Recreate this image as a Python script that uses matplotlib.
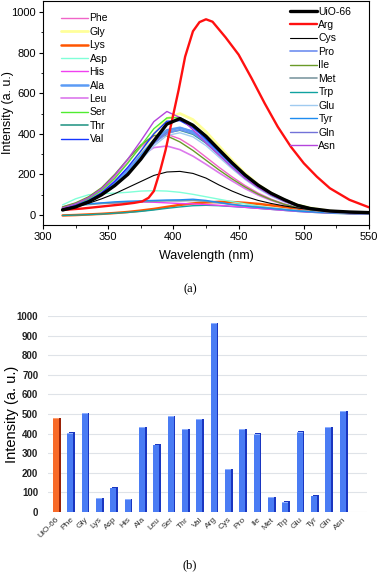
import numpy as np
import matplotlib
matplotlib.use("Agg")
import matplotlib.pyplot as plt
from matplotlib.ticker import MultipleLocator

plt.rcParams['font.family'] = ['Liberation Sans', 'DejaVu Sans']

# ---------------- data: spectra (panel a) ----------------
wavelength = [315, 325, 335, 345, 355, 365, 375, 385, 395, 405, 415, 425,
              435, 445, 455, 465, 475, 485, 495, 505, 520, 535, 550]

phe = [40, 58, 85, 125, 185, 260, 335, 390, 398, 375, 335, 285, 235, 188, 145, 108, 78, 55, 38, 26, 15, 10, 7]
gly = [30, 45, 68, 105, 158, 225, 310, 398, 475, 500, 470, 410, 340, 270, 205, 150, 108, 75, 50, 35, 20, 12, 8]
lys = [-2, 0, 3, 6, 10, 15, 22, 30, 40, 50, 57, 62, 65, 64, 60, 55, 48, 40, 32, 24, 15, 10, 7]
asp = [50, 80, 100, 105, 108, 112, 118, 120, 118, 112, 102, 90, 78, 66, 55, 45, 36, 28, 22, 17, 12, 9, 7]
his = [40, 48, 55, 58, 60, 62, 64, 63, 60, 57, 55, 52, 48, 43, 38, 33, 28, 23, 18, 14, 10, 7, 5]
ala = [30, 45, 70, 105, 155, 220, 295, 368, 418, 430, 410, 365, 305, 245, 190, 142, 102, 72, 48, 32, 18, 12, 9]
leu = [38, 55, 80, 118, 170, 230, 290, 332, 340, 322, 290, 250, 208, 168, 130, 98, 72, 52, 36, 25, 15, 10, 7]
ser = [35, 52, 80, 122, 180, 255, 340, 425, 478, 480, 445, 390, 325, 260, 200, 150, 110, 78, 52, 35, 20, 14, 10]
thr = [30, 44, 68, 102, 150, 212, 285, 355, 405, 418, 398, 355, 298, 240, 185, 138, 100, 70, 46, 30, 18, 12, 9]
val = [30, 48, 72, 110, 165, 235, 315, 400, 462, 465, 430, 375, 312, 250, 192, 143, 103, 72, 48, 32, 18, 12, 9]
uio = [25, 40, 65, 100, 145, 200, 275, 365, 448, 475, 442, 388, 322, 257, 197, 147, 107, 76, 48, 32, 20, 15, 12]
cys = [30, 42, 58, 80, 105, 135, 165, 195, 212, 215, 205, 182, 148, 118, 92, 72, 57, 45, 35, 27, 18, 12, 8]
pro = [28, 42, 66, 100, 147, 208, 280, 352, 403, 420, 402, 360, 302, 243, 188, 140, 100, 70, 46, 30, 18, 12, 9]
ile = [40, 60, 90, 135, 200, 275, 345, 392, 390, 360, 318, 270, 222, 178, 138, 103, 75, 53, 37, 25, 15, 10, 7]
met = [35, 45, 52, 57, 60, 63, 66, 68, 70, 70, 72, 68, 60, 52, 45, 40, 34, 28, 22, 17, 12, 8, 6]
trp = [-2, 0, 2, 5, 9, 13, 18, 25, 33, 40, 46, 48, 46, 42, 38, 33, 28, 23, 18, 14, 9, 6, 4]
glu = [28, 42, 64, 96, 142, 200, 270, 340, 392, 405, 385, 342, 285, 228, 175, 130, 93, 65, 43, 28, 17, 11, 8]
tyr = [30, 45, 55, 60, 65, 68, 70, 72, 74, 75, 78, 72, 62, 52, 45, 38, 32, 26, 20, 16, 11, 8, 6]
gln = [28, 42, 65, 99, 146, 208, 283, 357, 412, 430, 412, 368, 310, 250, 194, 145, 104, 73, 48, 31, 18, 12, 9]
asn = [35, 55, 85, 130, 195, 275, 365, 460, 510, 480, 420, 355, 295, 235, 180, 135, 98, 68, 45, 30, 18, 12, 8]

# Arg has a steep rise, so it is read on its own, finer wavelength grid
arg_wavelength = [315, 330, 345, 360, 370, 376, 381, 385, 390, 394, 399, 404, 409, 415,
                  420, 425, 430, 440, 450, 460, 470, 480, 490, 500, 510, 520, 535, 550]
arg = [25, 32, 42, 52, 60, 67, 85, 118, 222, 320, 468, 616, 780, 905,
       950, 964, 952, 875, 790, 673, 550, 435, 337, 255, 189, 132, 75, 38]

left_names = ["Phe", "Gly", "Lys", "Asp", "His", "Ala", "Leu", "Ser", "Thr", "Val"]
right_names = ["UiO-66", "Arg", "Cys", "Pro", "Ile", "Met", "Trp", "Glu", "Tyr", "Gln", "Asn"]

# ---------------- data: bar chart (panel b) ----------------
bar_labels = ["UiO-66", "Phe", "Gly", "Lys", "Asp", "His", "Ala", "Leu", "Ser", "Thr", "Val",
              "Arg", "Cys", "Pro", "Ile", "Met", "Trp", "Glu", "Tyr", "Gln", "Asn"]
bar_values = [475, 400, 500, 65, 120, 62, 430, 340, 485, 418, 470,
              960, 215, 420, 395, 72, 48, 405, 80, 430, 510]

# ---------------- styles ----------------
series = {
    "Phe": (wavelength, phe, '#f064c8', 1.0), "Gly": (wavelength, gly, '#ffff9a', 2.0),
    "Lys": (wavelength, lys, '#ff5500', 1.8), "Asp": (wavelength, asp, '#80ffd8', 1.0),
    "His": (wavelength, his, '#f040f0', 1.0), "Ala": (wavelength, ala, '#5b9bf5', 1.8),
    "Leu": (wavelength, leu, '#dc78ec', 1.2), "Ser": (wavelength, ser, '#50ec30', 1.0),
    "Thr": (wavelength, thr, '#2e9a8a', 1.2), "Val": (wavelength, val, '#1535ff', 1.0),
    "UiO-66": (wavelength, uio, '#000000', 2.4), "Arg": (arg_wavelength, arg, '#ff1010', 1.7),
    "Cys": (wavelength, cys, '#000000', 0.8), "Pro": (wavelength, pro, '#6f8ff0', 1.2),
    "Ile": (wavelength, ile, '#6a9a28', 1.0), "Met": (wavelength, met, '#7f9aa2', 1.2),
    "Trp": (wavelength, trp, '#10a2a0', 1.0), "Glu": (wavelength, glu, '#a0cbf0', 1.0),
    "Tyr": (wavelength, tyr, '#1e8cf0', 1.0), "Gln": (wavelength, gln, '#7272d8', 1.0),
    "Asn": (wavelength, asn, '#b444dc', 1.0),
}
draw_order = ["Gly", "Lys", "Trp", "Asp", "His", "Met", "Tyr", "Phe", "Leu", "Ile", "Glu", "Thr",
              "Pro", "Gln", "Ala", "Ser", "Val", "Asn", "Cys", "Arg", "UiO-66"]

W, H = 381, 573
fig = plt.figure(figsize=(W / 100, H / 100), dpi=100)

def fx(px):
    return px / W

def fy(py):
    return 1 - py / H

# ---------- panel a ----------
ax = fig.add_axes([fx(43), fy(225), fx(369 - 43), (225 - 1) / H])
handles = {}
for name in draw_order:
    xs, vals, col, lw = series[name]
    ln, = ax.plot(xs, vals, color=col, lw=lw, solid_capstyle='round', solid_joinstyle='round')
    handles[name] = ln
ax.set_xlim(300, 550)
ax.set_ylim(-49, 1054)
ax.set_xticks([300, 350, 400, 450, 500, 550])
ax.set_yticks([0, 200, 400, 600, 800, 1000])
ax.xaxis.set_minor_locator(MultipleLocator(25))
ax.yaxis.set_minor_locator(MultipleLocator(100))
ax.tick_params(which='major', direction='out', length=3, width=0.8, labelsize=8, pad=2)
ax.tick_params(which='minor', direction='out', length=1.8, width=0.6)
for s in ax.spines.values():
    s.set_linewidth(0.8)
ax.set_xlabel("Wavelength (nm)", fontsize=9, labelpad=6)
ax.set_ylabel("Intensity (a. u.)", fontsize=9)
ax.yaxis.set_label_coords((14 - 43) / 326, 0.5)

leg_kw = dict(frameon=False, fontsize=7.5, handlelength=2.6, handletextpad=0.15,
              labelspacing=0.33, borderpad=0, borderaxespad=0)
leg1 = ax.legend([handles[n] for n in left_names], left_names, loc='upper left',
                 bbox_to_anchor=(0.055, 0.945), **leg_kw)
ax.add_artist(leg1)
ax.legend([handles[n] for n in right_names], right_names, loc='upper left',
          bbox_to_anchor=(0.757, 0.975), **leg_kw)

fig.text(fx(190), fy(289), "(a)", ha='center', va='center', fontsize=9,
         family=['Liberation Serif', 'DejaVu Serif'])

# ---------- panel b ----------
bx = fig.add_axes([fx(48), fy(512), fx(367 - 48), (512 - 316) / H])
x = np.arange(len(bar_labels))
fronts = ['#f86a28'] + ['#4a7cf4'] * (len(bar_labels) - 1)
sides = ['#9a2208'] + ['#1a36c0'] * (len(bar_labels) - 1)
tops = ['#ff9a6a'] + ['#8fb0ff'] * (len(bar_labels) - 1)
bx.bar(x + 0.12, np.array(bar_values) + 6, width=0.44, color=sides, zorder=2)
bx.bar(x, np.array(bar_values) + 4, width=0.42, color=tops, zorder=3)
bx.bar(x, bar_values, width=0.42, color=fronts, zorder=4)
bx.set_xlim(-0.55, 21.7)
bx.set_ylim(0, 1000)
bx.set_yticks(np.arange(0, 1001, 100))
bx.grid(axis='y', color='#dfe3e8', lw=0.8, zorder=0)
for s in bx.spines.values():
    s.set_visible(False)
bx.tick_params(axis='y', length=0, labelsize=7, pad=7, labelcolor='#222222')
for t in bx.get_yticklabels():
    t.set_fontweight('bold')
bx.set_xticks(x)
bx.set_xticklabels(bar_labels, rotation=45, ha='right', rotation_mode='anchor',
                   fontsize=6, color='#333333')
bx.tick_params(axis='x', length=0, pad=3)
bx.set_ylabel("Intensity (a. u.)", fontsize=10.5,
              family=['Liberation Sans Narrow', 'Liberation Sans', 'DejaVu Sans'])
bx.yaxis.set_label_coords((19 - 48) / 319, 0.5)

fig.text(fx(190), fy(565), "(b)", ha='center', va='center', fontsize=9,
         family=['Liberation Serif', 'DejaVu Serif'])

fig.savefig("out.png", dpi=100)
